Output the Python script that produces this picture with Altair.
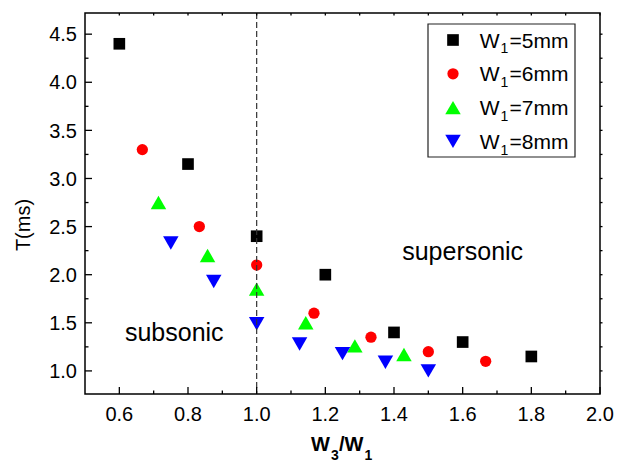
import altair as alt
import pandas as pd

# ---- data ----
x5 = [0.6, 0.8, 1.0, 1.2, 1.4, 1.6, 1.8]
y5 = [4.4, 3.15, 2.4, 2.0, 1.4, 1.3, 1.15]
x6 = [0.667, 0.833, 1.0, 1.167, 1.333, 1.5, 1.667]
y6 = [3.3, 2.5, 2.1, 1.6, 1.35, 1.2, 1.1]
x7 = [0.714, 0.857, 1.0, 1.143, 1.286, 1.429]
y7 = [2.75, 2.2, 1.85, 1.5, 1.26, 1.17]
x8 = [0.75, 0.875, 1.0, 1.125, 1.25, 1.375, 1.5]
y8 = [2.33, 1.93, 1.49, 1.28, 1.18, 1.09, 1.0]

series_values = ["=5mm", "=6mm", "=7mm", "=8mm"]
shapes = ["square", "circle", "triangle-up", "triangle-down"]
colors = ["#000000", "#ff0000", "#00ff00", "#0000ff"]
sizes = [136, 127, 240, 240]

x_ticks = [0.6, 0.8, 1.0, 1.2, 1.4, 1.6, 1.8, 2.0]
x_labels = ["0.6", "0.8", "1.0", "1.2", "1.4", "1.6", "1.8", "2.0"]
x_minor = [0.7, 0.9, 1.1, 1.3, 1.5, 1.7, 1.9]
y_ticks = [1.0, 1.5, 2.0, 2.5, 3.0, 3.5, 4.0, 4.5]
y_labels = ["1.0", "1.5", "2.0", "2.5", "3.0", "3.5", "4.0", "4.5"]
y_minor = [1.25, 1.75, 2.25, 2.75, 3.25, 3.75, 4.25]

annotations = pd.DataFrame({"x": [1.6, 0.76], "y": [2.15, 1.316],
                            "t": ["supersonic", "subsonic"]})

W, H = 515, 381
FONT = "Liberation Sans"

xscale = alt.Scale(domain=[0.5, 2.0], nice=False, zero=False)
yscale = alt.Scale(domain=[0.76, 4.72], nice=False, zero=False)

def X(f):
    return alt.X(f, scale=xscale, axis=None)

def Y(f):
    return alt.Y(f, scale=yscale, axis=None)

layers = []
series = [(x5, y5), (x6, y6), (x7, y7), (x8, y8)]
for i, (xs, ys) in enumerate(series):
    df = pd.DataFrame({"x": xs, "y": ys})
    layers.append(
        alt.Chart(df).mark_point(shape=shapes[i], filled=True, opacity=1,
                                 color=colors[i], size=sizes[i], strokeWidth=0)
        .encode(x=X("x:Q"), y=Y("y:Q"))
    )

# dashed divider at W3/W1 = 1
layers.append(
    alt.Chart(pd.DataFrame({"x": [1.0]})).mark_rule(
        color="#333333", strokeWidth=1.2, strokeDash=[6, 3])
    .encode(x=X("x:Q"))
)

# ticks: inside on bottom / left, small on top / right
def xticks(vals, y0, y1):
    return alt.Chart(pd.DataFrame({"v": vals})).mark_rule(
        color="black", strokeWidth=1.3).encode(
        x=X("v:Q"), y=alt.value(y0), y2=alt.value(y1))

def yticks(vals, x0, x1):
    return alt.Chart(pd.DataFrame({"v": vals})).mark_rule(
        color="black", strokeWidth=1.3).encode(
        y=Y("v:Q"), x=alt.value(x0), x2=alt.value(x1))

layers += [
    xticks(x_ticks, H, H - 7), xticks(x_minor, H, H - 3.5),
    yticks(y_ticks, 0, 7), yticks(y_minor, 0, 3.5),
    xticks(x_ticks + x_minor, 0, 2.5),
    yticks(y_ticks + y_minor, W, W + 2.5),
]

# tick labels placed through the scales
layers.append(
    alt.Chart(pd.DataFrame({"v": x_ticks, "t": x_labels})).mark_text(
        font=FONT, fontSize=20, color="black", baseline="alphabetic",
        align="center").encode(x=X("v:Q"), y=alt.value(H + 26.5), text="t:N")
)
layers.append(
    alt.Chart(pd.DataFrame({"v": y_ticks, "t": y_labels})).mark_text(
        font=FONT, fontSize=20, color="black", baseline="alphabetic",
        align="right", dy=7.2).encode(y=Y("v:Q"), x=alt.value(-8), text="t:N")
)

# region annotations
layers.append(
    alt.Chart(annotations).mark_text(font=FONT, fontSize=25, color="black",
                                     baseline="alphabetic", align="center")
    .encode(x=X("x:Q"), y=Y("y:Q"), text="t:N")
)

one = pd.DataFrame({"a": [0]})

def txt(s, px, py, size, weight="normal", angle=0, align="left"):
    return alt.Chart(one).mark_text(
        text=s, font=FONT, fontSize=size, fontWeight=weight, color="black",
        baseline="alphabetic", align=align, angle=angle
    ).encode(x=alt.value(px), y=alt.value(py))

# legend box
LX = 343
layers.append(
    alt.Chart(one).mark_rect(fill="white", stroke="#222222", strokeWidth=1.2)
    .encode(x=alt.value(LX), x2=alt.value(LX + 147), y=alt.value(11), y2=alt.value(144))
)
for i in range(4):
    cy = 27 + i * 33.8
    layers.append(
        alt.Chart(one).mark_point(shape=shapes[i], filled=True, opacity=1,
                                  color=colors[i], size=sizes[i], strokeWidth=0)
        .encode(x=alt.value(LX + 25), y=alt.value(cy))
    )
    layers.append(txt("W", LX + 51.7, cy + 7.5, 21))
    layers.append(txt("1", LX + 72.5, cy + 13.3, 14))
    layers.append(txt(series_values[i], LX + 81.5, cy + 7.5, 21))

# axis titles
layers.append(txt("W", 226, 438, 20, "bold"))
layers.append(txt("3", 246, 446.5, 14, "bold"))
layers.append(txt("/W", 254, 438, 20, "bold"))
layers.append(txt("1", 279.5, 446.5, 14, "bold"))
layers.append(txt("T(ms)", -55.5, 212, 20, angle=270, align="center"))

chart = alt.layer(*layers).properties(
    width=W, height=H,
    autosize=alt.AutoSizeParams(type="none"),
    padding={"left": 77, "top": 5, "right": 14, "bottom": 69},
    background="white",
).configure_view(stroke="black", strokeWidth=1.5)

chart.save("out.html", embed_options={"renderer": "svg", "actions": False})
